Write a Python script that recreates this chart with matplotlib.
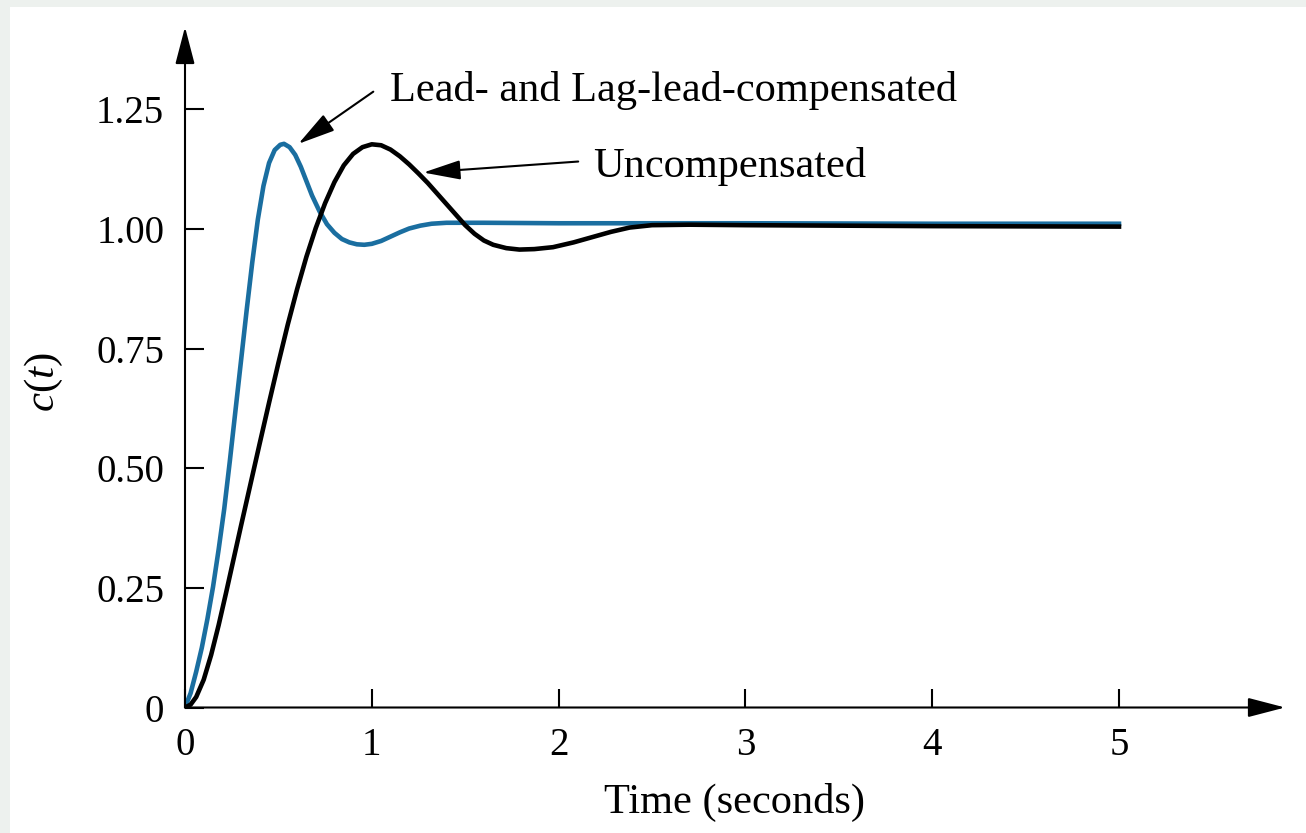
#! /usr/bin/python
# -*- coding: utf-8 -*-

import matplotlib
matplotlib.use('Agg')
import matplotlib.pyplot as plt
from matplotlib.patches import Rectangle

t_lead = [0.00, 0.03, 0.06, 0.09, 0.12, 0.15, 0.18, 0.21, 0.24, 0.27, 0.30, 0.33, 0.36, 0.39,
          0.42, 0.45, 0.48, 0.51, 0.53, 0.56, 0.59, 0.62, 0.65, 0.68, 0.72, 0.76, 0.80, 0.84,
          0.88, 0.92, 0.96, 1.00, 1.05, 1.10, 1.15, 1.20, 1.26, 1.32, 1.40, 1.50, 1.60, 2.00,
          3.00, 4.00, 5.00]
c_lead = [0.000, 0.030, 0.075, 0.125, 0.185, 0.252, 0.330, 0.415, 0.515, 0.620, 0.725, 0.830,
          0.930, 1.020, 1.090, 1.138, 1.165, 1.176, 1.178, 1.171, 1.155, 1.130, 1.100, 1.070,
          1.037, 1.010, 0.992, 0.979, 0.972, 0.968, 0.967, 0.969, 0.975, 0.984, 0.993, 1.001,
          1.007, 1.011, 1.013, 1.013, 1.013, 1.012, 1.012, 1.011, 1.011]

t_unc = [0.00, 0.03, 0.06, 0.10, 0.14, 0.18, 0.22, 0.26, 0.30, 0.35, 0.40, 0.45, 0.50, 0.55,
         0.60, 0.65, 0.70, 0.75, 0.80, 0.85, 0.90, 0.95, 1.00, 1.05, 1.10, 1.15, 1.20, 1.25,
         1.30, 1.35, 1.40, 1.45, 1.50, 1.55, 1.60, 1.65, 1.72, 1.79, 1.87, 1.97, 2.08, 2.18,
         2.28, 2.38, 2.50, 2.70, 3.00, 4.00, 5.00]
c_unc = [0.000, 0.006, 0.022, 0.058, 0.110, 0.172, 0.240, 0.310, 0.380, 0.466, 0.552, 0.637,
         0.720, 0.800, 0.874, 0.942, 1.002, 1.054, 1.098, 1.133, 1.157, 1.171, 1.177, 1.175,
         1.166, 1.152, 1.135, 1.116, 1.096, 1.074, 1.052, 1.030, 1.008, 0.990, 0.976, 0.967,
         0.960, 0.957, 0.958, 0.962, 0.972, 0.983, 0.994, 1.003, 1.008, 1.009, 1.008, 1.006,
         1.005]

x_ticks = [0, 1, 2, 3, 4, 5]
y_ticks = [0, 0.25, 0.50, 0.75, 1.00, 1.25]
y_tick_labels = ['0', '0.25', '0.50', '0.75', '1.00', '1.25']

plt.rcParams['font.family'] = ['Liberation Serif', 'DejaVu Serif']
plt.rcParams['mathtext.fontset'] = 'custom'
plt.rcParams['mathtext.rm'] = 'Liberation Serif'
plt.rcParams['mathtext.it'] = 'Liberation Serif:italic'

W, H = 1306, 833
fig = plt.figure(figsize=(W / 100, H / 100), dpi=100)
fig.patch.set_facecolor('#edf1ee')
fig.patches.append(Rectangle((10 / W, 0), 1, (H - 7) / H, transform=fig.transFigure,
                             facecolor='white', edgecolor='none', zorder=-10))

# axes box: origin at (185, 707.5) px, arrow tips at x=1285, y=27
ax = fig.add_axes([185 / W, (H - 707.5) / H, 1100 / W, 680.5 / H])
ax.set_xlim(0, 1100 / 186.8)
ax.set_ylim(0, 680.5 / 478.5)

ax.plot(t_lead, c_lead, color='#1a6ea0', lw=3.3, zorder=3, solid_joinstyle='round')
ax.plot(t_unc, c_unc, color='black', lw=3.3, zorder=4, solid_joinstyle='round')

for s in ax.spines.values():
    s.set_visible(False)

head = '-|>,head_length=2.3,head_width=0.6'
for end in [(1, 0), (0, 1)]:
    ax.annotate('', xy=end, xytext=(0, 0), xycoords='axes fraction',
                annotation_clip=False,
                arrowprops=dict(arrowstyle=head, color='black', lw=1.5,
                                shrinkA=0, shrinkB=0, mutation_scale=10))

ax.set_xticks(x_ticks)
ax.set_xticklabels([str(v) for v in x_ticks])
ax.set_yticks(y_ticks)
ax.set_yticklabels(y_tick_labels)
ax.tick_params(direction='in', length=14, width=1.5, labelsize=28, color='black')
ax.tick_params(axis='x', pad=14)
ax.tick_params(axis='y', pad=15)

ax.set_xlabel('Time (seconds)', fontsize=30.5, va='center')
ax.xaxis.set_label_coords(0.5, -95 / 680.5)
ax.set_ylabel('$c(t)$', fontsize=31, va='center', ha='center')
ax.yaxis.set_label_coords(-141 / 1100, 325.5 / 680.5)

# curve labels with pointers
ax.text(1.097, 1.2675, 'Lead- and Lag-lead-compensated', fontsize=30.5, va='baseline')
ax.annotate('', xy=(0.607, 1.178), xytext=(1.008, 1.287), annotation_clip=False,
            arrowprops=dict(arrowstyle=head, color='black', lw=1.5,
                            shrinkA=0, shrinkB=0, mutation_scale=10))
ax.text(2.184, 1.109, 'Uncompensated', fontsize=30.5, va='baseline')
ax.annotate('', xy=(1.276, 1.118), xytext=(2.105, 1.141), annotation_clip=False,
            arrowprops=dict(arrowstyle=head, color='black', lw=1.5,
                            shrinkA=0, shrinkB=0, mutation_scale=10))

fig.savefig('out.png', dpi=100, facecolor=fig.get_facecolor())
